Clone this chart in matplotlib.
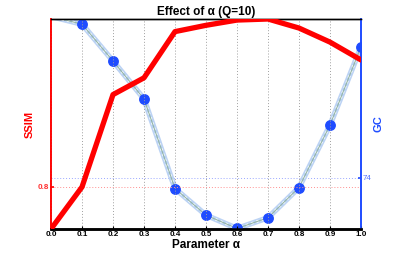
import matplotlib
matplotlib.use('Agg')
import matplotlib.pyplot as plt
import numpy as np

plt.rcParams['font.family'] = ['Liberation Sans', 'DejaVu Sans']

# data
alpha = [0.0, 0.1, 0.2, 0.3, 0.4, 0.5, 0.6, 0.7, 0.8, 0.9, 1.0]
ssim = [0.78, 0.80, 0.844, 0.852, 0.874, 0.877, 0.8795, 0.88, 0.8757, 0.869, 0.8605]
gc = [77.15, 77.0, 76.28, 75.54, 73.79, 73.27, 73.01, 73.22, 73.81, 75.03, 76.56]
xticks = [0.0, 0.1, 0.2, 0.3, 0.4, 0.5, 0.6, 0.7, 0.8, 0.9, 1.0]

fig = plt.figure(figsize=(3.99, 2.57), dpi=100)
ax = fig.add_axes([0.1278, 0.109, 0.777, 0.817])
ax2 = ax.twinx()

# vertical grid lines
for xv in xticks:
    ax.axvline(xv, color='#a0a0a0', lw=0.7, ls=(0, (1, 2)), zorder=0)
ax.axhline(0.8, color='#ff9090', lw=0.7, ls=(0, (1, 2)), zorder=0)
ax2.axhline(74, color='#9aa8ff', lw=0.7, ls=(0, (1, 2)), zorder=0)

# GC curve: light blue thick dotted line with thin center
ax2.plot(alpha, gc, color='#bcd3f4', lw=4.0, zorder=2)
ax2.plot(alpha, gc, color='#ffffff', lw=1.8, ls=(0, (1, 1.2)), zorder=3)
ax2.plot(alpha, gc, color='#92b4a8', lw=0.8, zorder=4)
ax2.plot(alpha, gc, ls='none', marker='o', ms=6.8, color='#1f4cff',
         markevery=slice(1, None), zorder=5)

# SSIM curve
ax.plot(alpha, ssim, color='#ff0000', lw=3.8, solid_capstyle='round', zorder=6)
ax.set_zorder(ax2.get_zorder() + 1)
ax.patch.set_visible(False)

ax.set_xlim(0, 1)
ax.set_ylim(0.78, 0.88)
ax2.set_ylim(73.0, 77.1)

ax.set_xticks(xticks)
ax.set_xticklabels(['%.1f' % v for v in xticks], fontsize=5.8, fontweight='bold')
ax.set_yticks([0.8])
ax.set_yticklabels(['0.8'], fontsize=5.8, fontweight='bold')
ax2.set_yticks([74])
ax2.set_yticklabels(['74'], fontsize=5.8)

ax.tick_params(axis='x', length=2, width=0.8, pad=1.5, direction='in')
ax.tick_params(axis='y', length=2, width=1.2, pad=1.5, colors='#ff0000', direction='in')
ax2.tick_params(axis='y', length=2, width=1.2, pad=1.5, colors='#1f4cff', direction='in')
ax.tick_params(axis='y', labelcolor='#ff3030')
ax2.tick_params(axis='y', labelcolor='#5070ff')

for a in (ax, ax2):
    a.spines['left'].set_color('#ff0000')
    a.spines['right'].set_color('#1f4cff')
    a.spines['top'].set_color('black')
    a.spines['bottom'].set_color('black')
    a.spines['left'].set_linewidth(1.2)
    a.spines['right'].set_linewidth(1.2)
    a.spines['top'].set_linewidth(1.0)
    a.spines['bottom'].set_linewidth(1.8)

ax.set_title('Effect of α (Q=10)', fontsize=8.5, fontweight='bold', pad=3)
ax.set_xlabel('Parameter α', fontsize=8.5, fontweight='bold', labelpad=1)
ax.set_ylabel('SSIM', fontsize=8, fontweight='bold', color='#ff0000',
              rotation=90, va='center')
ax.yaxis.set_label_coords(-0.068, 0.5)
ax2.set_ylabel('GC', fontsize=8, fontweight='bold', color='#1f4cff',
               rotation=90, va='center')
ax2.yaxis.set_label_coords(1.055, 0.5)

fig.savefig('out.png', dpi=100)
